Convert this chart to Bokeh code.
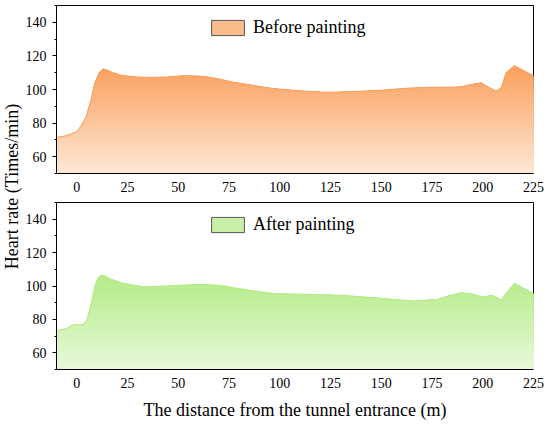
import numpy as np
from bokeh.plotting import figure
from bokeh.layouts import row, column
from bokeh.models import FixedTicker, Legend, LegendItem, Label
from bokeh.embed import file_html
from bokeh.resources import INLINE

FONT = "Liberation Serif"

# ---------------- data ----------------
x_before = [-10, -5, 0, 2, 4.7, 7, 8.9, 11, 12.9, 15, 17.9, 22, 27.7, 35.9, 45, 52.3,
            60, 63.8, 70, 76.9, 85, 96.6, 110, 122, 135, 150, 163, 175, 185, 189.4,
            196, 199.2, 202.5, 206.6, 209.1, 211.5, 215.6, 219.8, 225]
hr_before = [71.5, 72.5, 75, 78, 84, 94, 104, 110, 112.3, 111.6, 110, 108.5, 107.6, 107.2,
             107.5, 108.2, 108, 107.6, 106.3, 104.4, 102.8, 100.6, 99.2, 98.4, 98.6, 99.6,
             100.8, 101.4, 101.4, 101.6, 103.4, 104, 101.6, 99, 101, 110, 114.3, 111.5, 108.2]

x_after = [-10, -5, -1, 1.5, 3.2, 5.1, 7, 8.9, 10.5, 12.1, 14, 16.2, 22.8, 32.6, 44, 52,
           60.4, 70.3, 85, 97.4, 115, 130.3, 146.7, 158, 166.4, 177.9, 182.8, 189.4, 194.3,
           200, 204.1, 206.5, 209, 212.4, 215.6, 219.7, 225]
hr_after = [73.1, 74.5, 77.1, 76.7, 77, 80, 89, 100, 105, 106.6, 106, 104.4, 101.6, 99.6,
            100, 100.5, 101, 100.4, 97.4, 95.4, 95, 94.4, 93, 91.8, 91, 92, 94, 96, 95.4,
            93.4, 94.4, 93.5, 91.6, 97, 101.6, 99, 95.4]

x_ticks = [0, 25, 50, 75, 100, 125, 150, 175, 200, 225]
y_ticks = [60, 80, 100, 120, 140]
y_minor = [50, 70, 90, 110, 130, 150]

labels = ["Before painting", "After painting"]
x_title = "The distance from the tunnel entrance (m)"
y_title = "Heart rate (Times/min)"

ORANGE_TOP = (251, 160, 93)
ORANGE_BOT = (253, 233, 215)
GREEN_TOP = (180, 235, 135)
GREEN_BOT = (233, 249, 220)

Y0, Y1 = 50, 150
FW = 477


def hexcol(c):
    return "#%02x%02x%02x" % tuple(int(round(v)) for v in c)


def mix(top, bot, t):
    return hexcol([b + (a - b) * t for a, b in zip(top, bot)])


def panel(xs, ys, top, bot, label, bottom_panel):
    fh = 167 if bottom_panel else 168
    p = figure(frame_width=FW, frame_height=fh, x_range=(-10, 225), y_range=(Y0, Y1),
               output_backend="svg", toolbar_location=None,
               min_border_left=0, min_border_right=16,
               min_border_top=(1 if bottom_panel else 5),
               min_border_bottom=(0 if bottom_panel else 28))
    p.xgrid.visible = False
    p.ygrid.visible = False
    p.outline_line_color = "black"
    p.outline_line_width = 1
    p.background_fill_color = "white"
    p.border_fill_color = "white"

    xs = np.array(xs, dtype=float)
    ys = np.array(ys, dtype=float)
    ymax = ys.max()
    levels = np.linspace(Y0, ymax, 46)[1:]
    # draw from highest to lowest level -> vertical gradient
    for i in range(len(levels) - 1, -1, -1):
        L = levels[i]
        t = (L - Y0) / (ymax - Y0)
        col = mix(top, bot, t)
        p.varea(x=xs, y1=np.full_like(xs, Y0), y2=np.minimum(ys, L),
                fill_color=col, fill_alpha=1.0)
    p.line(xs, ys, line_color=hexcol(top), line_width=1)

    # legend (glyph only drawn inside the legend; NaN keeps it off the plot)
    dummy = p.quad(left=[np.nan], right=[np.nan], top=[np.nan], bottom=[np.nan],
                   fill_color=mix(top, bot, 0.62), line_color="#555555", line_width=1)
    leg = Legend(items=[LegendItem(label=label, renderers=[dummy])],
                 location=(151, fh - 14 - 19), glyph_width=41, glyph_height=19,
                 label_height=19, label_standoff=5, padding=0, margin=0, spacing=0,
                 label_text_font=FONT, label_text_font_size="18px",
                 label_text_color="black", border_line_color=None,
                 background_fill_alpha=0)
    p.add_layout(leg)

    xa = p.xaxis[0]
    xa.ticker = FixedTicker(ticks=x_ticks)
    xa.major_tick_out = 0
    xa.major_tick_in = 0
    xa.minor_tick_out = 0
    xa.minor_tick_in = 0
    xa.major_label_standoff = 8
    xa.axis_line_color = "black"
    xa.major_label_text_font = FONT
    xa.major_label_text_font_size = "14px"
    xa.major_label_text_color = "black"
    if bottom_panel:
        xa.axis_label = x_title
        xa.axis_label_text_font = FONT
        xa.axis_label_text_font_size = "18px"
        xa.axis_label_text_font_style = "normal"
        xa.axis_label_text_color = "black"
        xa.axis_label_standoff = 9

    ya = p.yaxis[0]
    ya.ticker = FixedTicker(ticks=y_ticks, minor_ticks=y_minor)
    ya.major_tick_out = 4
    ya.major_tick_in = 0
    ya.minor_tick_out = 2
    ya.minor_tick_in = 0
    ya.major_label_standoff = 6
    ya.axis_line_color = "black"
    ya.major_tick_line_color = "black"
    ya.minor_tick_line_color = "black"
    ya.major_label_text_font = FONT
    ya.major_label_text_font_size = "14px"
    ya.major_label_text_color = "black"
    return p


p_top = panel(x_before, hr_before, ORANGE_TOP, ORANGE_BOT, labels[0], False)
p_bot = panel(x_after, hr_after, GREEN_TOP, GREEN_BOT, labels[1], True)

TOTAL_H = 424
p_title = figure(width=22, height=TOTAL_H, output_backend="svg", toolbar_location=None,
                 x_axis_location=None, y_axis_location=None,
                 min_border_left=0, min_border_right=0, min_border_top=0, min_border_bottom=0)
p_title.outline_line_color = None
p_title.xgrid.visible = False
p_title.ygrid.visible = False
p_title.add_layout(Label(x=11, y=TOTAL_H - 186, x_units="screen", y_units="screen",
                         text=y_title, angle=np.pi / 2, text_align="center",
                         text_baseline="middle", text_font=FONT, text_font_size="18px",
                         text_color="black"))

layout = row(p_title, column(p_top, p_bot, spacing=0), spacing=0)

open("out.html", "w").write(file_html(layout, INLINE))
